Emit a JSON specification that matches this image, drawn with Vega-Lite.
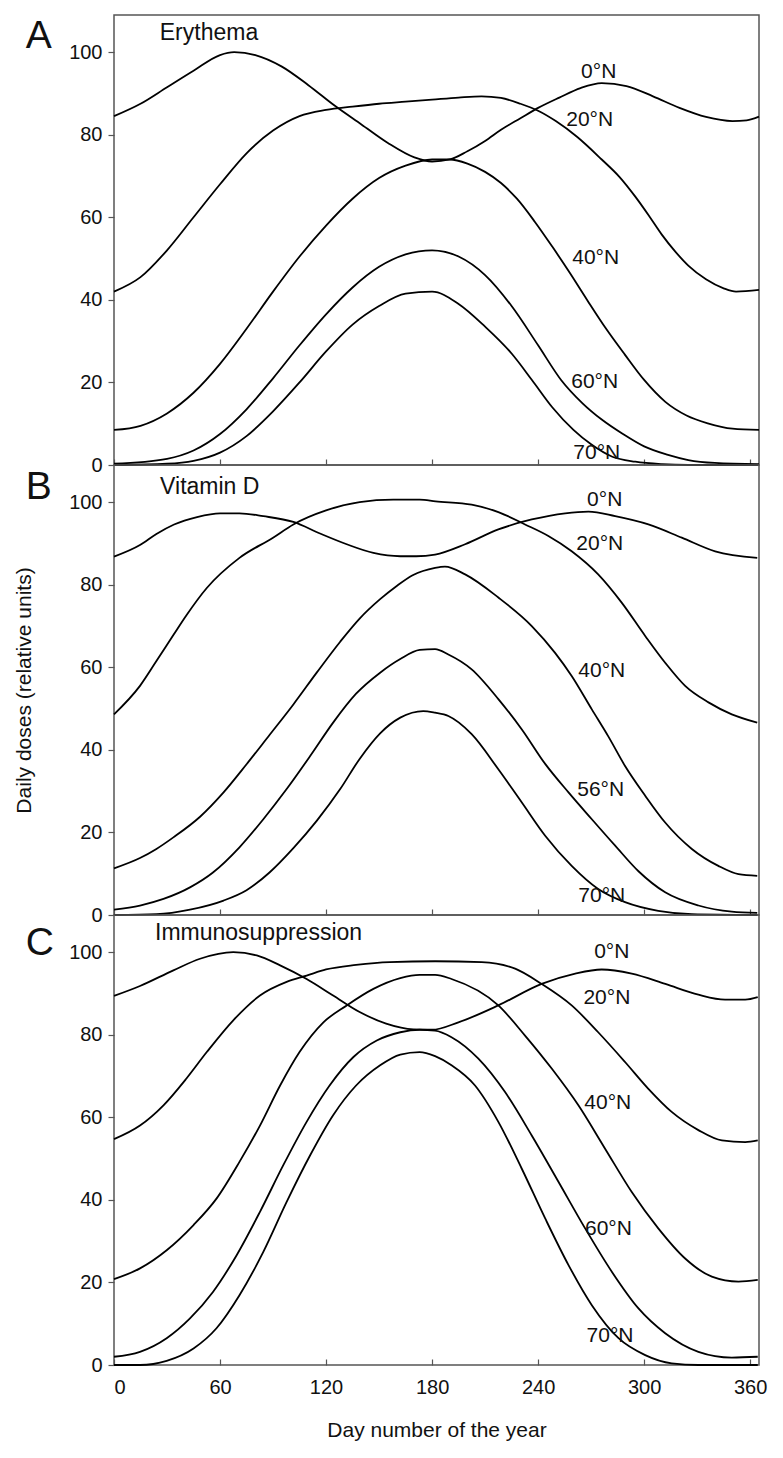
{
  "$schema": "https://vega.github.io/schema/vega-lite/v6.json",
  "padding": {"left": 12, "top": 14, "right": 20, "bottom": 5},
  "spacing": 0,
  "bounds": "flush",
  "config": {
    "view": {"stroke": "#555", "strokeWidth": 1.5},
    "font": "Liberation Sans",
    "axis": {"domain": false, "grid": false, "tickColor": "#555", "tickWidth": 1.2, "labelFont": "Liberation Sans", "labelFontSize": 20, "labelColor": "#111", "titleFont": "Liberation Sans", "titleFontWeight": "normal", "titleColor": "#111", "titleFontSize": 21},
    "axisX": {"tickSize": -6, "labelPadding": 18, "labelFontSize": 20},
    "axisY": {"tickSize": 6, "labelPadding": 6}
  },
  "datasets": {
    "curves": [
      {"panel":"A","lat":"0","day":0,"value":84.5},{"panel":"A","lat":"0","day":15,"value":87.5},{"panel":"A","lat":"0","day":30,"value":91.5},{"panel":"A","lat":"0","day":45,"value":95.5},{"panel":"A","lat":"0","day":60,"value":99.3},{"panel":"A","lat":"0","day":68,"value":100},{"panel":"A","lat":"0","day":80,"value":99.3},{"panel":"A","lat":"0","day":95,"value":96.5},{"panel":"A","lat":"0","day":110,"value":92},{"panel":"A","lat":"0","day":125,"value":87},{"panel":"A","lat":"0","day":140,"value":82.5},{"panel":"A","lat":"0","day":155,"value":78},{"panel":"A","lat":"0","day":170,"value":74.5},{"panel":"A","lat":"0","day":180,"value":73.5},{"panel":"A","lat":"0","day":190,"value":74},{"panel":"A","lat":"0","day":200,"value":76},{"panel":"A","lat":"0","day":210,"value":78.5},{"panel":"A","lat":"0","day":219,"value":81.2},{"panel":"A","lat":"0","day":230,"value":84},{"panel":"A","lat":"0","day":240,"value":86.5},{"panel":"A","lat":"0","day":252,"value":89},{"panel":"A","lat":"0","day":264,"value":91.3},{"panel":"A","lat":"0","day":276,"value":92.5},{"panel":"A","lat":"0","day":290,"value":91.8},{"panel":"A","lat":"0","day":305,"value":89.3},{"panel":"A","lat":"0","day":320,"value":86.5},{"panel":"A","lat":"0","day":335,"value":84.3},{"panel":"A","lat":"0","day":350,"value":83.3},{"panel":"A","lat":"0","day":358,"value":83.5},{"panel":"A","lat":"0","day":365,"value":84.4},
      {"panel":"A","lat":"20","day":0,"value":42},{"panel":"A","lat":"20","day":15,"value":45.5},{"panel":"A","lat":"20","day":30,"value":52},{"panel":"A","lat":"20","day":45,"value":60},{"panel":"A","lat":"20","day":60,"value":68},{"panel":"A","lat":"20","day":75,"value":75.5},{"panel":"A","lat":"20","day":90,"value":81},{"panel":"A","lat":"20","day":105,"value":84.5},{"panel":"A","lat":"20","day":120,"value":86},{"panel":"A","lat":"20","day":135,"value":86.8},{"panel":"A","lat":"20","day":150,"value":87.5},{"panel":"A","lat":"20","day":165,"value":88},{"panel":"A","lat":"20","day":180,"value":88.5},{"panel":"A","lat":"20","day":195,"value":89},{"panel":"A","lat":"20","day":208,"value":89.3},{"panel":"A","lat":"20","day":219,"value":88.9},{"panel":"A","lat":"20","day":230,"value":87.5},{"panel":"A","lat":"20","day":240,"value":85.8},{"panel":"A","lat":"20","day":250,"value":83.3},{"panel":"A","lat":"20","day":262,"value":79.5},{"panel":"A","lat":"20","day":276,"value":74},{"panel":"A","lat":"20","day":286,"value":69.8},{"panel":"A","lat":"20","day":295,"value":65},{"panel":"A","lat":"20","day":303,"value":60.2},{"panel":"A","lat":"20","day":310,"value":55.8},{"panel":"A","lat":"20","day":318,"value":51.5},{"panel":"A","lat":"20","day":325,"value":48.3},{"panel":"A","lat":"20","day":335,"value":45},{"panel":"A","lat":"20","day":345,"value":42.8},{"panel":"A","lat":"20","day":352,"value":42},{"panel":"A","lat":"20","day":365,"value":42.4},
      {"panel":"A","lat":"40","day":0,"value":8.5},{"panel":"A","lat":"40","day":15,"value":9.5},{"panel":"A","lat":"40","day":30,"value":12.5},{"panel":"A","lat":"40","day":45,"value":17.5},{"panel":"A","lat":"40","day":60,"value":24.5},{"panel":"A","lat":"40","day":75,"value":33},{"panel":"A","lat":"40","day":90,"value":42},{"panel":"A","lat":"40","day":105,"value":50.5},{"panel":"A","lat":"40","day":120,"value":58},{"panel":"A","lat":"40","day":135,"value":64.5},{"panel":"A","lat":"40","day":150,"value":69.5},{"panel":"A","lat":"40","day":165,"value":72.5},{"panel":"A","lat":"40","day":180,"value":74},{"panel":"A","lat":"40","day":190,"value":74},{"panel":"A","lat":"40","day":200,"value":73},{"panel":"A","lat":"40","day":210,"value":71},{"panel":"A","lat":"40","day":219,"value":68.3},{"panel":"A","lat":"40","day":228,"value":64.5},{"panel":"A","lat":"40","day":238,"value":59},{"panel":"A","lat":"40","day":248,"value":52.9},{"panel":"A","lat":"40","day":258,"value":46.5},{"panel":"A","lat":"40","day":268,"value":39.8},{"panel":"A","lat":"40","day":278,"value":33.3},{"panel":"A","lat":"40","day":289,"value":26.8},{"panel":"A","lat":"40","day":300,"value":20.6},{"panel":"A","lat":"40","day":312,"value":15.3},{"panel":"A","lat":"40","day":324,"value":12},{"panel":"A","lat":"40","day":336,"value":10.1},{"panel":"A","lat":"40","day":350,"value":8.8},{"panel":"A","lat":"40","day":365,"value":8.5},
      {"panel":"A","lat":"60","day":0,"value":0.3},{"panel":"A","lat":"60","day":30,"value":1.5},{"panel":"A","lat":"60","day":45,"value":3.5},{"panel":"A","lat":"60","day":60,"value":7.5},{"panel":"A","lat":"60","day":75,"value":13.5},{"panel":"A","lat":"60","day":90,"value":21},{"panel":"A","lat":"60","day":105,"value":29},{"panel":"A","lat":"60","day":120,"value":36.5},{"panel":"A","lat":"60","day":135,"value":43},{"panel":"A","lat":"60","day":150,"value":48},{"panel":"A","lat":"60","day":165,"value":51},{"panel":"A","lat":"60","day":180,"value":52},{"panel":"A","lat":"60","day":195,"value":50.5},{"panel":"A","lat":"60","day":210,"value":46},{"panel":"A","lat":"60","day":225,"value":38.5},{"panel":"A","lat":"60","day":240,"value":29},{"panel":"A","lat":"60","day":253,"value":20.6},{"panel":"A","lat":"60","day":265,"value":15},{"panel":"A","lat":"60","day":276,"value":11},{"panel":"A","lat":"60","day":288,"value":7.5},{"panel":"A","lat":"60","day":300,"value":4.5},{"panel":"A","lat":"60","day":313,"value":2.5},{"panel":"A","lat":"60","day":325,"value":1.2},{"panel":"A","lat":"60","day":340,"value":0.5},{"panel":"A","lat":"60","day":365,"value":0.2},
      {"panel":"A","lat":"70","day":0,"value":0},{"panel":"A","lat":"70","day":30,"value":0.3},{"panel":"A","lat":"70","day":45,"value":1},{"panel":"A","lat":"70","day":60,"value":3},{"panel":"A","lat":"70","day":75,"value":7},{"panel":"A","lat":"70","day":90,"value":13},{"panel":"A","lat":"70","day":105,"value":20},{"panel":"A","lat":"70","day":120,"value":27.5},{"panel":"A","lat":"70","day":135,"value":34},{"panel":"A","lat":"70","day":150,"value":38.5},{"panel":"A","lat":"70","day":165,"value":41.5},{"panel":"A","lat":"70","day":180,"value":42},{"panel":"A","lat":"70","day":195,"value":39},{"panel":"A","lat":"70","day":210,"value":33.5},{"panel":"A","lat":"70","day":225,"value":27},{"panel":"A","lat":"70","day":236.5,"value":20.6},{"panel":"A","lat":"70","day":248,"value":14},{"panel":"A","lat":"70","day":260,"value":8.5},{"panel":"A","lat":"70","day":270,"value":5},{"panel":"A","lat":"70","day":282,"value":2},{"panel":"A","lat":"70","day":295,"value":0.8},{"panel":"A","lat":"70","day":310,"value":0.2},{"panel":"A","lat":"70","day":325,"value":0},{"panel":"A","lat":"70","day":365,"value":0},

      {"panel":"B","lat":"0","day":0,"value":86.8},{"panel":"B","lat":"0","day":14.7,"value":89.6},{"panel":"B","lat":"0","day":24,"value":92.3},{"panel":"B","lat":"0","day":34,"value":94.6},{"panel":"B","lat":"0","day":47,"value":96.4},{"panel":"B","lat":"0","day":60,"value":97.3},{"panel":"B","lat":"0","day":71,"value":97.3},{"panel":"B","lat":"0","day":84.5,"value":96.6},{"panel":"B","lat":"0","day":101.5,"value":95.2},{"panel":"B","lat":"0","day":116.6,"value":92.4},{"panel":"B","lat":"0","day":131.7,"value":89.8},{"panel":"B","lat":"0","day":146.8,"value":87.7},{"panel":"B","lat":"0","day":162,"value":86.9},{"panel":"B","lat":"0","day":171,"value":86.9},{"panel":"B","lat":"0","day":181.7,"value":87.3},{"panel":"B","lat":"0","day":198.7,"value":89.8},{"panel":"B","lat":"0","day":217.5,"value":93.4},{"panel":"B","lat":"0","day":236.4,"value":95.8},{"panel":"B","lat":"0","day":255.3,"value":97.3},{"panel":"B","lat":"0","day":268.5,"value":97.7},{"panel":"B","lat":"0","day":283.6,"value":96.6},{"panel":"B","lat":"0","day":302.4,"value":94.6},{"panel":"B","lat":"0","day":321.3,"value":91.4},{"panel":"B","lat":"0","day":340.2,"value":88.1},{"panel":"B","lat":"0","day":364,"value":86.5},
      {"panel":"B","lat":"20","day":0,"value":48.6},{"panel":"B","lat":"20","day":14.7,"value":55.5},{"panel":"B","lat":"20","day":24,"value":61.5},{"panel":"B","lat":"20","day":33.6,"value":67.8},{"panel":"B","lat":"20","day":41,"value":72.6},{"panel":"B","lat":"20","day":52.5,"value":79.2},{"panel":"B","lat":"20","day":71,"value":86.5},{"panel":"B","lat":"20","day":90,"value":91.4},{"panel":"B","lat":"20","day":101.5,"value":94.6},{"panel":"B","lat":"20","day":120,"value":98},{"panel":"B","lat":"20","day":139,"value":100},{"panel":"B","lat":"20","day":158,"value":100.6},{"panel":"B","lat":"20","day":173,"value":100.6},{"panel":"B","lat":"20","day":182,"value":100.2},{"panel":"B","lat":"20","day":202.4,"value":99.4},{"panel":"B","lat":"20","day":217.5,"value":97.6},{"panel":"B","lat":"20","day":232.6,"value":94.6},{"panel":"B","lat":"20","day":245.8,"value":91.8},{"panel":"B","lat":"20","day":259,"value":88.1},{"panel":"B","lat":"20","day":274,"value":82.5},{"panel":"B","lat":"20","day":287.4,"value":75.6},{"panel":"B","lat":"20","day":300.6,"value":67.6},{"panel":"B","lat":"20","day":311.9,"value":61.1},{"panel":"B","lat":"20","day":323.2,"value":55.5},{"panel":"B","lat":"20","day":336.4,"value":51.5},{"panel":"B","lat":"20","day":349.6,"value":48.6},{"panel":"B","lat":"20","day":364,"value":46.6},
      {"panel":"B","lat":"40","day":0,"value":11.3},{"panel":"B","lat":"40","day":14.7,"value":13.8},{"panel":"B","lat":"40","day":24,"value":16},{"panel":"B","lat":"40","day":33.6,"value":18.8},{"panel":"B","lat":"40","day":48.7,"value":23.8},{"panel":"B","lat":"40","day":62,"value":29.7},{"panel":"B","lat":"40","day":75,"value":36.5},{"panel":"B","lat":"40","day":88,"value":43.6},{"panel":"B","lat":"40","day":101.5,"value":51},{"panel":"B","lat":"40","day":114.7,"value":58.7},{"panel":"B","lat":"40","day":128,"value":66.2},{"panel":"B","lat":"40","day":139,"value":71.8},{"panel":"B","lat":"40","day":150.6,"value":76.5},{"panel":"B","lat":"40","day":160,"value":79.7},{"panel":"B","lat":"40","day":169,"value":82.3},{"panel":"B","lat":"40","day":181.7,"value":84.1},{"panel":"B","lat":"40","day":187.3,"value":84.4},{"panel":"B","lat":"40","day":198.7,"value":82.5},{"panel":"B","lat":"40","day":217.5,"value":76.9},{"panel":"B","lat":"40","day":236.4,"value":70},{"panel":"B","lat":"40","day":249.6,"value":63.5},{"panel":"B","lat":"40","day":259,"value":57.9},{"panel":"B","lat":"40","day":270.4,"value":49.8},{"panel":"B","lat":"40","day":279.8,"value":43.2},{"panel":"B","lat":"40","day":289.2,"value":36.1},{"panel":"B","lat":"40","day":300.6,"value":28.9},{"panel":"B","lat":"40","day":311.9,"value":22.4},{"panel":"B","lat":"40","day":327,"value":16},{"panel":"B","lat":"40","day":342,"value":11.9},{"panel":"B","lat":"40","day":353.4,"value":9.9},{"panel":"B","lat":"40","day":364,"value":9.5},
      {"panel":"B","lat":"56","day":0,"value":1.3},{"panel":"B","lat":"56","day":14.7,"value":2.3},{"panel":"B","lat":"56","day":28,"value":3.9},{"panel":"B","lat":"56","day":43,"value":6.7},{"panel":"B","lat":"56","day":56,"value":10.3},{"panel":"B","lat":"56","day":71,"value":16.4},{"panel":"B","lat":"56","day":84.5,"value":23.2},{"panel":"B","lat":"56","day":97.7,"value":30.5},{"panel":"B","lat":"56","day":111,"value":38.5},{"panel":"B","lat":"56","day":124,"value":46.6},{"panel":"B","lat":"56","day":137,"value":53.6},{"panel":"B","lat":"56","day":150.6,"value":58.7},{"panel":"B","lat":"56","day":162,"value":62},{"panel":"B","lat":"56","day":173,"value":64.2},{"panel":"B","lat":"56","day":181.7,"value":64.4},{"panel":"B","lat":"56","day":189.2,"value":63.1},{"panel":"B","lat":"56","day":202.4,"value":59.5},{"panel":"B","lat":"56","day":217.5,"value":52.3},{"panel":"B","lat":"56","day":230.7,"value":45},{"panel":"B","lat":"56","day":244,"value":36.6},{"panel":"B","lat":"56","day":257.2,"value":29.7},{"panel":"B","lat":"56","day":270.4,"value":23.2},{"panel":"B","lat":"56","day":283.6,"value":16.8},{"panel":"B","lat":"56","day":296.8,"value":10.6},{"panel":"B","lat":"56","day":311.9,"value":5.5},{"panel":"B","lat":"56","day":330.7,"value":2.3},{"panel":"B","lat":"56","day":349.6,"value":0.8},{"panel":"B","lat":"56","day":364,"value":0.5},
      {"panel":"B","lat":"70","day":0,"value":0},{"panel":"B","lat":"70","day":24,"value":0.2},{"panel":"B","lat":"70","day":43,"value":1.3},{"panel":"B","lat":"70","day":62,"value":3.5},{"panel":"B","lat":"70","day":75,"value":6},{"panel":"B","lat":"70","day":88,"value":10.3},{"panel":"B","lat":"70","day":101.5,"value":16.2},{"panel":"B","lat":"70","day":114.7,"value":22.8},{"panel":"B","lat":"70","day":128,"value":30.5},{"panel":"B","lat":"70","day":139,"value":37.8},{"panel":"B","lat":"70","day":150.6,"value":44},{"panel":"B","lat":"70","day":162,"value":47.8},{"panel":"B","lat":"70","day":175,"value":49.4},{"panel":"B","lat":"70","day":181.7,"value":49},{"panel":"B","lat":"70","day":189.2,"value":48.2},{"panel":"B","lat":"70","day":202.4,"value":43.8},{"panel":"B","lat":"70","day":217.5,"value":35.3},{"panel":"B","lat":"70","day":230.7,"value":27.3},{"panel":"B","lat":"70","day":244,"value":19.2},{"panel":"B","lat":"70","day":259,"value":11.9},{"panel":"B","lat":"70","day":274,"value":6.3},{"panel":"B","lat":"70","day":289.2,"value":3.1},{"panel":"B","lat":"70","day":308,"value":1},{"panel":"B","lat":"70","day":327,"value":0.2},{"panel":"B","lat":"70","day":364,"value":0},

      {"panel":"C","lat":"0","day":0,"value":89.4},{"panel":"C","lat":"0","day":14.7,"value":91.8},{"panel":"C","lat":"0","day":33.6,"value":95.6},{"panel":"C","lat":"0","day":48.7,"value":98.4},{"panel":"C","lat":"0","day":67.5,"value":100},{"panel":"C","lat":"0","day":80.8,"value":99.2},{"panel":"C","lat":"0","day":94,"value":96.8},{"panel":"C","lat":"0","day":109,"value":93.5},{"panel":"C","lat":"0","day":124,"value":89.5},{"panel":"C","lat":"0","day":139,"value":85.5},{"panel":"C","lat":"0","day":154,"value":82.7},{"panel":"C","lat":"0","day":169.4,"value":81.3},{"panel":"C","lat":"0","day":180,"value":81.2},{"panel":"C","lat":"0","day":194.9,"value":83},{"panel":"C","lat":"0","day":217.5,"value":87.1},{"panel":"C","lat":"0","day":242,"value":92.3},{"panel":"C","lat":"0","day":261,"value":94.8},{"panel":"C","lat":"0","day":276,"value":95.8},{"panel":"C","lat":"0","day":293,"value":94.8},{"panel":"C","lat":"0","day":312,"value":92.3},{"panel":"C","lat":"0","day":330.7,"value":89.7},{"panel":"C","lat":"0","day":345.8,"value":88.5},{"panel":"C","lat":"0","day":357.2,"value":88.5},{"panel":"C","lat":"0","day":364.3,"value":89.1},
      {"panel":"C","lat":"20","day":0,"value":54.7},{"panel":"C","lat":"20","day":14.7,"value":58},{"panel":"C","lat":"20","day":28,"value":62.9},{"panel":"C","lat":"20","day":41,"value":69.4},{"panel":"C","lat":"20","day":52.5,"value":75.8},{"panel":"C","lat":"20","day":67.5,"value":83.5},{"panel":"C","lat":"20","day":82.6,"value":89.5},{"panel":"C","lat":"20","day":97.7,"value":92.8},{"panel":"C","lat":"20","day":109,"value":94.3},{"panel":"C","lat":"20","day":120,"value":95.8},{"panel":"C","lat":"20","day":137,"value":96.9},{"panel":"C","lat":"20","day":156,"value":97.6},{"panel":"C","lat":"20","day":181.7,"value":97.8},{"panel":"C","lat":"20","day":208.1,"value":97.6},{"panel":"C","lat":"20","day":227,"value":96},{"panel":"C","lat":"20","day":242,"value":92.3},{"panel":"C","lat":"20","day":259,"value":87.1},{"panel":"C","lat":"20","day":274,"value":80.6},{"panel":"C","lat":"20","day":289.2,"value":73.4},{"panel":"C","lat":"20","day":302.4,"value":66.9},{"panel":"C","lat":"20","day":315.6,"value":61.3},{"panel":"C","lat":"20","day":330.7,"value":56.9},{"panel":"C","lat":"20","day":344,"value":54.4},{"panel":"C","lat":"20","day":357.2,"value":54},{"panel":"C","lat":"20","day":364.3,"value":54.4},
      {"panel":"C","lat":"40","day":0,"value":20.8},{"panel":"C","lat":"40","day":14.7,"value":23.4},{"panel":"C","lat":"40","day":29.8,"value":27.8},{"panel":"C","lat":"40","day":45,"value":33.9},{"panel":"C","lat":"40","day":58,"value":40.3},{"panel":"C","lat":"40","day":71,"value":49.2},{"panel":"C","lat":"40","day":82.6,"value":58},{"panel":"C","lat":"40","day":94,"value":67.7},{"panel":"C","lat":"40","day":105,"value":75.8},{"panel":"C","lat":"40","day":118.5,"value":83},{"panel":"C","lat":"40","day":131.7,"value":87.1},{"panel":"C","lat":"40","day":146.8,"value":91.1},{"panel":"C","lat":"40","day":162,"value":93.7},{"panel":"C","lat":"40","day":173,"value":94.5},{"panel":"C","lat":"40","day":181.7,"value":94.5},{"panel":"C","lat":"40","day":191,"value":93.5},{"panel":"C","lat":"40","day":217.5,"value":87.1},{"panel":"C","lat":"40","day":232.6,"value":79.8},{"panel":"C","lat":"40","day":247.7,"value":71.8},{"panel":"C","lat":"40","day":262.8,"value":62.9},{"panel":"C","lat":"40","day":277.9,"value":52.4},{"panel":"C","lat":"40","day":293,"value":41.9},{"panel":"C","lat":"40","day":308,"value":33.1},{"panel":"C","lat":"40","day":323.2,"value":25.8},{"panel":"C","lat":"40","day":338.3,"value":21.4},{"panel":"C","lat":"40","day":353.4,"value":20.2},{"panel":"C","lat":"40","day":364.3,"value":20.6},
      {"panel":"C","lat":"60","day":0,"value":2},{"panel":"C","lat":"60","day":14.7,"value":3.2},{"panel":"C","lat":"60","day":29.8,"value":6.5},{"panel":"C","lat":"60","day":43,"value":11.3},{"panel":"C","lat":"60","day":56,"value":17.7},{"panel":"C","lat":"60","day":69.4,"value":26.6},{"panel":"C","lat":"60","day":82.6,"value":37.1},{"panel":"C","lat":"60","day":95.8,"value":48.4},{"panel":"C","lat":"60","day":109,"value":58.9},{"panel":"C","lat":"60","day":122,"value":67.7},{"panel":"C","lat":"60","day":135.5,"value":74.6},{"panel":"C","lat":"60","day":148.7,"value":78.6},{"panel":"C","lat":"60","day":162,"value":80.6},{"panel":"C","lat":"60","day":173,"value":81.2},{"panel":"C","lat":"60","day":181.7,"value":81},{"panel":"C","lat":"60","day":191,"value":79.4},{"panel":"C","lat":"60","day":206.2,"value":74.2},{"panel":"C","lat":"60","day":221.3,"value":66.1},{"panel":"C","lat":"60","day":236.4,"value":55.6},{"panel":"C","lat":"60","day":251.5,"value":44.4},{"panel":"C","lat":"60","day":266.6,"value":33.1},{"panel":"C","lat":"60","day":281.7,"value":22.6},{"panel":"C","lat":"60","day":296.8,"value":13.7},{"panel":"C","lat":"60","day":311.9,"value":7.7},{"panel":"C","lat":"60","day":330.7,"value":3.2},{"panel":"C","lat":"60","day":349.6,"value":1.8},{"panel":"C","lat":"60","day":364.3,"value":2},
      {"panel":"C","lat":"70","day":0,"value":0},{"panel":"C","lat":"70","day":14.7,"value":0},{"panel":"C","lat":"70","day":29.8,"value":1},{"panel":"C","lat":"70","day":45,"value":4},{"panel":"C","lat":"70","day":58,"value":8.9},{"panel":"C","lat":"70","day":71,"value":16.9},{"panel":"C","lat":"70","day":84.5,"value":27.4},{"panel":"C","lat":"70","day":97.7,"value":39.5},{"panel":"C","lat":"70","day":111,"value":50.8},{"panel":"C","lat":"70","day":124,"value":60.5},{"panel":"C","lat":"70","day":137,"value":67.7},{"panel":"C","lat":"70","day":150.6,"value":72.6},{"panel":"C","lat":"70","day":162,"value":75.2},{"panel":"C","lat":"70","day":173,"value":75.8},{"panel":"C","lat":"70","day":181.7,"value":74.8},{"panel":"C","lat":"70","day":191,"value":72.6},{"panel":"C","lat":"70","day":204.3,"value":67.7},{"panel":"C","lat":"70","day":217.5,"value":58.9},{"panel":"C","lat":"70","day":230.7,"value":47.6},{"panel":"C","lat":"70","day":244,"value":35.5},{"panel":"C","lat":"70","day":257.2,"value":24.2},{"panel":"C","lat":"70","day":270.4,"value":14.5},{"panel":"C","lat":"70","day":285.5,"value":6.5},{"panel":"C","lat":"70","day":300.6,"value":2.4},{"panel":"C","lat":"70","day":315.6,"value":0.4},{"panel":"C","lat":"70","day":330.7,"value":0},{"panel":"C","lat":"70","day":364.3,"value":0}
    ],
    "labels": [
      {"panel":"A","label":"0°N","day":274.3,"value":95.1},{"panel":"A","label":"20°N","day":269.2,"value":83.6},{"panel":"A","label":"40°N","day":272.6,"value":50.2},{"panel":"A","label":"60°N","day":272,"value":20},{"panel":"A","label":"70°N","day":273.2,"value":3},
      {"panel":"B","label":"0°N","day":277.7,"value":100.5},{"panel":"B","label":"20°N","day":274.9,"value":89.8},{"panel":"B","label":"40°N","day":276,"value":59.1},{"panel":"B","label":"56°N","day":275.4,"value":30.2},{"panel":"B","label":"70°N","day":276,"value":4.7},
      {"panel":"C","label":"0°N","day":281.7,"value":100},{"panel":"C","label":"20°N","day":278.9,"value":88.9},{"panel":"C","label":"40°N","day":279.4,"value":63.5},{"panel":"C","label":"60°N","day":279.8,"value":32.9},{"panel":"C","label":"70°N","day":280.7,"value":7}
    ],
    "titles": [
      {"panel":"A","text":"Erythema","day":25.9,"value":102.9},
      {"panel":"B","text":"Vitamin D","day":26.1,"value":101.9},
      {"panel":"C","text":"Immunosuppression","day":23.2,"value":103}
    ],
    "letters": [
      {"panel":"A","text":"A","day":-50,"value":101},
      {"panel":"B","text":"B","day":-50,"value":100.7},
      {"panel":"C","text":"C","day":-50,"value":99.3}
    ]
  },
  "vconcat": [
    {
      "width": 645, "height": 450,
      "encoding": {
        "x": {"field": "day", "type": "quantitative", "scale": {"domain": [0, 365], "nice": false}, "axis": {"values": [0, 60, 120, 180, 240, 300, 360], "labels": false, "title": null}},
        "y": {"field": "value", "type": "quantitative", "scale": {"domain": [0, 109], "nice": false}, "axis": {"values": [0, 20, 40, 60, 80, 100], "title": null}}
      },
      "layer": [
        {"data": {"name": "curves"}, "transform": [{"filter": "datum.panel === 'A'"}], "mark": {"type": "line", "color": "black", "strokeWidth": 1.8, "interpolate": "monotone"}, "encoding": {"detail": {"field": "lat"}}},
        {"data": {"name": "labels"}, "transform": [{"filter": "datum.panel === 'A'"}], "mark": {"type": "text", "fontSize": 21, "align": "center", "baseline": "middle", "color": "#111"}, "encoding": {"text": {"field": "label"}}},
        {"data": {"name": "titles"}, "transform": [{"filter": "datum.panel === 'A'"}], "mark": {"type": "text", "fontSize": 23, "align": "left", "baseline": "alphabetic", "color": "#111"}, "encoding": {"text": {"field": "text"}}},
        {"data": {"name": "letters"}, "transform": [{"filter": "datum.panel === 'A'"}], "mark": {"type": "text", "fontSize": 39, "align": "left", "baseline": "alphabetic", "color": "#111"}, "encoding": {"text": {"field": "text"}}}
      ]
    },
    {
      "width": 645, "height": 450,
      "encoding": {
        "x": {"field": "day", "type": "quantitative", "scale": {"domain": [0, 365], "nice": false}, "axis": {"values": [0, 60, 120, 180, 240, 300, 360], "labels": false, "title": null}},
        "y": {"field": "value", "type": "quantitative", "scale": {"domain": [0, 109], "nice": false}, "axis": {"values": [0, 20, 40, 60, 80, 100], "title": "Daily doses (relative units)", "titlePadding": 34}}
      },
      "layer": [
        {"data": {"name": "curves"}, "transform": [{"filter": "datum.panel === 'B'"}], "mark": {"type": "line", "color": "black", "strokeWidth": 1.8, "interpolate": "monotone"}, "encoding": {"detail": {"field": "lat"}}},
        {"data": {"name": "labels"}, "transform": [{"filter": "datum.panel === 'B'"}], "mark": {"type": "text", "fontSize": 21, "align": "center", "baseline": "middle", "color": "#111"}, "encoding": {"text": {"field": "label"}}},
        {"data": {"name": "titles"}, "transform": [{"filter": "datum.panel === 'B'"}], "mark": {"type": "text", "fontSize": 23, "align": "left", "baseline": "alphabetic", "color": "#111"}, "encoding": {"text": {"field": "text"}}},
        {"data": {"name": "letters"}, "transform": [{"filter": "datum.panel === 'B'"}], "mark": {"type": "text", "fontSize": 39, "align": "left", "baseline": "alphabetic", "color": "#111"}, "encoding": {"text": {"field": "text"}}}
      ]
    },
    {
      "width": 645, "height": 450,
      "encoding": {
        "x": {"field": "day", "type": "quantitative", "scale": {"domain": [0, 365], "nice": false}, "axis": {"values": [0, 60, 120, 180, 240, 300, 360], "title": "Day number of the year", "titlePadding": 22}},
        "y": {"field": "value", "type": "quantitative", "scale": {"domain": [0, 109], "nice": false}, "axis": {"values": [0, 20, 40, 60, 80, 100], "title": null}}
      },
      "layer": [
        {"data": {"name": "curves"}, "transform": [{"filter": "datum.panel === 'C'"}], "mark": {"type": "line", "color": "black", "strokeWidth": 1.8, "interpolate": "monotone"}, "encoding": {"detail": {"field": "lat"}}},
        {"data": {"name": "labels"}, "transform": [{"filter": "datum.panel === 'C'"}], "mark": {"type": "text", "fontSize": 21, "align": "center", "baseline": "middle", "color": "#111"}, "encoding": {"text": {"field": "label"}}},
        {"data": {"name": "titles"}, "transform": [{"filter": "datum.panel === 'C'"}], "mark": {"type": "text", "fontSize": 23, "align": "left", "baseline": "alphabetic", "color": "#111"}, "encoding": {"text": {"field": "text"}}},
        {"data": {"name": "letters"}, "transform": [{"filter": "datum.panel === 'C'"}], "mark": {"type": "text", "fontSize": 39, "align": "left", "baseline": "alphabetic", "color": "#111"}, "encoding": {"text": {"field": "text"}}}
      ]
    }
  ]
}
